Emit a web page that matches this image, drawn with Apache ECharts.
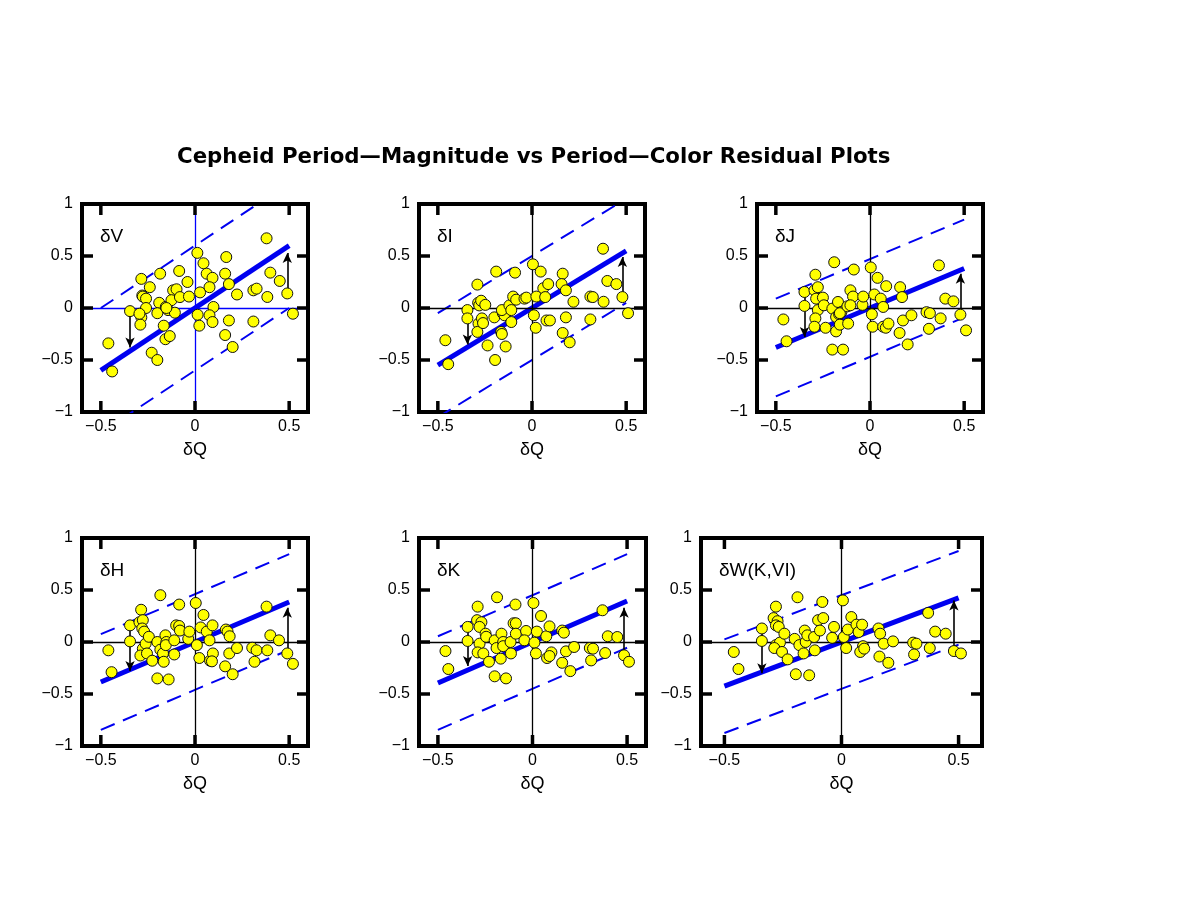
<!DOCTYPE html>
<html>
<head>
<meta charset="utf-8">
<script src="https://cdn.jsdelivr.net/npm/echarts@6/dist/echarts.min.js"></script>
<style>
html,body{margin:0;padding:0;background:#fff;}
#chart{width:1177px;height:909px;}
</style>
</head>
<body>
<div id="chart"></div>
<script>
// ---------------- data ----------------
const panelLabels = ['δV', 'δI', 'δJ', 'δH', 'δK', 'δW(K,VI)'];
const xTicks = [-0.5, 0, 0.5];
const yTicks = [-0.5, 0, 0.5];

const ptsV = [[-0.46,-0.34],[-0.44,-0.61],[-0.345,-0.03],[-0.285,0.28],[-0.28,0.12],[-0.277,0.11],[-0.26,0.09],[-0.26,0.0],[-0.285,-0.09],[-0.29,-0.16],[-0.295,-0.055],[-0.24,0.2],[-0.185,0.33],[-0.19,0.05],[-0.2,-0.05],[-0.166,-0.17],[-0.157,-0.3],[-0.134,-0.27],[-0.23,-0.43],[-0.2,-0.5],[-0.155,0.01],[-0.143,-0.02],[-0.116,0.17],[-0.098,0.18],[-0.107,-0.045],[-0.125,0.075],[-0.08,0.105],[-0.084,0.356],[-0.04,0.25],[-0.032,0.11],[0.0125,0.53],[0.045,0.43],[0.062,0.33],[0.093,0.29],[0.027,0.15],[0.077,0.2],[0.014,-0.065],[0.023,-0.17],[0.098,0.01],[0.077,-0.07],[0.093,-0.135],[0.166,0.49],[0.16,0.33],[0.18,0.23],[0.223,0.13],[0.18,-0.12],[0.16,-0.26],[0.2,-0.375],[0.31,0.17],[0.327,0.186],[0.31,-0.13],[0.384,0.106],[0.38,0.67],[0.4,0.34],[0.45,0.26],[0.49,0.14],[0.52,-0.055],[-0.152,0.0]];

const ptsI = [[-0.46,-0.31],[-0.445,-0.54],[-0.343,-0.02],[-0.343,-0.1],[-0.29,0.225],[-0.286,0.05],[-0.28,0.025],[-0.27,0.07],[-0.284,-0.15],[-0.29,-0.23],[-0.266,-0.1],[-0.248,0.03],[-0.26,-0.145],[-0.19,0.35],[-0.2,-0.09],[-0.236,-0.36],[-0.196,-0.5],[-0.164,-0.23],[-0.16,-0.25],[-0.14,-0.37],[-0.155,-0.05],[-0.146,-0.07],[-0.16,-0.02],[-0.12,0.025],[-0.11,-0.135],[-0.1,0.11],[-0.084,0.08],[-0.11,-0.02],[-0.09,0.34],[-0.04,0.09],[-0.03,0.1],[0.005,0.42],[0.046,0.35],[0.023,0.11],[0.01,-0.07],[0.02,-0.19],[0.06,0.19],[0.086,0.23],[0.07,0.105],[0.077,-0.12],[0.095,-0.12],[0.163,0.33],[0.157,0.23],[0.18,0.17],[0.22,0.06],[0.18,-0.09],[0.163,-0.24],[0.2,-0.33],[0.31,0.11],[0.323,0.105],[0.31,-0.11],[0.38,0.06],[0.377,0.57],[0.4,0.26],[0.448,0.23],[0.48,0.105],[0.51,-0.05]];

const ptsJ = [[-0.46,-0.11],[-0.443,-0.32],[-0.348,0.154],[-0.348,0.02],[-0.29,0.32],[-0.295,0.17],[-0.277,0.2],[-0.286,0.09],[-0.277,-0.02],[-0.29,-0.1],[-0.295,-0.18],[-0.25,0.1],[-0.245,0.026],[-0.236,-0.19],[-0.19,0.44],[-0.2,-0.006],[-0.18,-0.087],[-0.17,0.058],[-0.18,-0.225],[-0.2,-0.4],[-0.143,-0.4],[-0.164,-0.06],[-0.152,-0.04],[-0.16,-0.05],[-0.16,-0.16],[-0.12,0.016],[-0.116,-0.15],[-0.104,0.17],[-0.09,0.11],[-0.086,0.37],[-0.104,0.026],[-0.04,0.03],[-0.036,0.11],[0.004,0.39],[0.01,-0.06],[0.014,-0.18],[0.023,0.13],[0.04,0.29],[0.057,0.09],[0.07,0.01],[0.086,0.21],[0.07,-0.18],[0.084,-0.19],[0.098,-0.15],[0.16,0.2],[0.17,0.105],[0.175,-0.12],[0.22,-0.07],[0.157,-0.24],[0.2,-0.35],[0.3,-0.04],[0.318,-0.05],[0.313,-0.2],[0.375,-0.1],[0.366,0.41],[0.4,0.09],[0.443,0.064],[0.48,-0.064],[0.51,-0.215]];

const ptsH = [[-0.46,-0.08],[-0.443,-0.29],[-0.345,0.16],[-0.345,0.006],[-0.286,0.31],[-0.295,0.19],[-0.277,0.21],[-0.28,0.13],[-0.27,0.1],[-0.277,-0.064],[-0.29,-0.13],[-0.262,-0.016],[-0.255,-0.11],[-0.245,0.05],[-0.227,-0.18],[-0.2,0.0],[-0.184,0.45],[-0.184,-0.074],[-0.17,-0.11],[-0.157,0.064],[-0.152,0.0],[-0.155,-0.03],[-0.166,-0.19],[-0.2,-0.35],[-0.14,-0.36],[-0.11,0.016],[-0.11,-0.12],[-0.1,0.16],[-0.084,0.154],[-0.08,0.11],[-0.084,0.36],[-0.036,0.03],[-0.03,0.1],[0.004,0.375],[0.01,-0.03],[0.023,-0.154],[0.03,0.14],[0.045,0.26],[0.0625,0.1],[0.077,0.016],[0.093,0.16],[0.08,-0.18],[0.095,-0.11],[0.09,-0.186],[0.164,0.12],[0.173,0.1],[0.184,0.055],[0.182,-0.11],[0.223,-0.058],[0.16,-0.234],[0.2,-0.31],[0.304,-0.055],[0.327,-0.08],[0.316,-0.19],[0.38,0.34],[0.384,-0.08],[0.4,0.064],[0.446,0.016],[0.49,-0.11],[0.52,-0.21]];

const ptsK = [[-0.46,-0.087],[-0.445,-0.26],[-0.343,0.145],[-0.343,0.01],[-0.29,0.34],[-0.293,0.21],[-0.27,0.19],[-0.28,0.145],[-0.28,-0.016],[-0.29,-0.1],[-0.26,-0.11],[-0.248,0.08],[-0.245,0.05],[-0.23,-0.19],[-0.2,0.016],[-0.1875,0.43],[-0.19,-0.058],[-0.2,-0.33],[-0.14,-0.35],[-0.164,0.08],[-0.155,0.0],[-0.155,-0.04],[-0.168,-0.16],[-0.116,0.0],[-0.114,-0.11],[-0.1,0.18],[-0.088,0.18],[-0.088,0.08],[-0.09,0.36],[-0.034,0.106],[-0.043,0.016],[0.005,0.375],[0.01,-0.006],[0.018,-0.11],[0.023,0.1],[0.045,0.25],[0.073,0.055],[0.09,0.15],[0.1,-0.1],[0.077,-0.154],[0.09,-0.135],[0.157,0.11],[0.166,0.09],[0.177,-0.09],[0.22,-0.048],[0.157,-0.2],[0.2,-0.28],[0.303,-0.058],[0.32,-0.064],[0.31,-0.177],[0.37,0.305],[0.384,-0.106],[0.398,0.055],[0.448,0.048],[0.484,-0.128],[0.51,-0.19]];

const ptsW = [[-0.46,-0.096],[-0.44,-0.26],[-0.34,0.13],[-0.34,0.01],[-0.28,0.34],[-0.29,0.23],[-0.273,0.2],[-0.28,0.16],[-0.268,0.145],[-0.28,-0.03],[-0.263,-0.006],[-0.287,-0.058],[-0.254,-0.096],[-0.244,0.08],[-0.23,-0.167],[-0.2,0.03],[-0.188,0.43],[-0.18,-0.03],[-0.195,-0.31],[-0.138,-0.32],[-0.162,-0.11],[-0.157,0.11],[-0.153,0.0],[-0.146,0.064],[-0.117,0.048],[-0.114,-0.08],[-0.1,0.21],[-0.092,0.11],[-0.078,0.23],[-0.082,0.385],[-0.04,0.04],[-0.032,0.145],[0.006,0.4],[0.01,0.048],[0.02,-0.058],[0.027,0.12],[0.042,0.24],[0.064,0.167],[0.073,0.096],[0.088,0.167],[0.092,-0.04],[0.08,-0.096],[0.097,-0.064],[0.158,0.13],[0.165,0.08],[0.18,-0.016],[0.162,-0.14],[0.22,0.006],[0.2,-0.2],[0.306,-0.006],[0.32,-0.016],[0.31,-0.12],[0.37,0.28],[0.377,-0.058],[0.4,0.1],[0.445,0.08],[0.48,-0.087],[0.51,-0.11]];

const panelPoints = [ptsV, ptsI, ptsJ, ptsH, ptsK, ptsW];

// fitted relation (slope) and scatter band half-width for each panel
const fitSlope = [1.2, 1.1, 0.76, 0.77, 0.79, 0.85];
const bandHalf = [0.6, 0.5, 0.47, 0.46, 0.45, 0.45];

// residual arrows: x position, start and end values
const arrowLeftX    = [-0.345, -0.343, -0.348, -0.345, -0.343, -0.34];
const arrowLeftFrom = [-0.03, -0.1, 0.154, 0.16, 0.145, 0.13];
const arrowLeftTo   = [-0.38, -0.35, -0.28, -0.28, -0.23, -0.3];
const arrowRightX    = [0.49, 0.48, 0.48, 0.49, 0.484, 0.48];
const arrowRightFrom = [0.14, 0.105, -0.064, -0.11, -0.128, -0.087];
const arrowRightTo   = [0.53, 0.49, 0.33, 0.33, 0.33, 0.4];

// ---------------- layout / style ----------------
const X_MIN = -0.6, X_MAX = 0.6, Y_MIN = -1, Y_MAX = 1;
const gridLeft  = [82, 419, 757, 82, 419, 701];
const gridTop   = [204, 204, 204, 538, 538, 538];
const gridWidth = [226, 226, 226, 226, 227, 281];
const gridHeight = 208;
const zeroColor = ['#0000ff', '#000', '#000', '#000', '#000', '#000'];
const BLUE = '#0000f0';
const FONT = '"Liberation Sans", Arial, Helvetica, sans-serif';
const TICK_PX = 11;
const fmt = v => String(v).replace('-', '\u2212');

const grids = [], xAxes = [], yAxes = [], series = [], titles = [];

titles.push({
  text: 'Cepheid Period\u2014Magnitude vs Period\u2014Color Residual Plots',
  left: 177, top: 147, padding: 0,
  textStyle: { fontFamily: '"DejaVu Sans", sans-serif', fontSize: 21.3, fontWeight: 'bold', color: '#000' }
});

// one custom series per frame side; the tick is drawn inward from the axis position
function tickSeries(i, data, ddx, ddy) {
  return {
    type: 'custom', xAxisIndex: i, yAxisIndex: i, clip: false, z: 7,
    data: data,
    renderItem: function (params, api) {
      const c = api.coord([api.value(0), api.value(1)]);
      return { type: 'line',
        shape: { x1: c[0], y1: c[1], x2: c[0] + ddx * TICK_PX, y2: c[1] + ddy * TICK_PX },
        style: { stroke: '#000', lineWidth: 3.5 } };
    }
  };
}

for (let i = 0; i < 6; i++) {
  grids.push({ left: gridLeft[i], top: gridTop[i], width: gridWidth[i], height: gridHeight,
    show: true, borderColor: '#000', borderWidth: 4 });
  xAxes.push({
    type: 'value', gridIndex: i, min: X_MIN, max: X_MAX, position: 'bottom',
    axisLine: { show: false, onZero: false }, splitLine: { show: false }, axisTick: { show: false },
    axisLabel: { customValues: xTicks, formatter: fmt, fontSize: 16, color: '#000', margin: 7, fontFamily: FONT },
    name: 'δQ', nameLocation: 'middle', nameGap: 29,
    nameTextStyle: { fontSize: 18, color: '#000', fontFamily: FONT, verticalAlign: 'top' }
  });
  yAxes.push({
    type: 'value', gridIndex: i, min: Y_MIN, max: Y_MAX, interval: 0.5, position: 'left',
    axisLine: { show: false, onZero: false }, splitLine: { show: false }, axisTick: { show: false },
    axisLabel: { formatter: fmt, fontSize: 16, color: '#000', margin: 9, fontFamily: FONT }
  });
  const s = fitSlope[i], b = bandHalf[i];
  // zero lines
  series.push({
    type: 'line', xAxisIndex: i, yAxisIndex: i, data: [], z: 1,
    markLine: { symbol: ['none', 'none'], label: { show: false },
      lineStyle: { color: zeroColor[i], width: 1.3, type: 'solid' },
      data: [{ yAxis: 0 }, { xAxis: 0 }] }
  });
  // frame ticks (bottom, top, left, right)
  series.push(tickSeries(i, xTicks.map(v => [v, Y_MIN]), 0, -1));
  series.push(tickSeries(i, xTicks.map(v => [v, Y_MAX]), 0, 1));
  series.push(tickSeries(i, yTicks.map(v => [X_MIN, v]), 1, 0));
  series.push(tickSeries(i, yTicks.map(v => [X_MAX, v]), -1, 0));
  // dashed band
  series.push({
    type: 'line', xAxisIndex: i, yAxisIndex: i, symbol: 'none', z: 2,
    data: [[-0.5, -0.5 * s + b], [0.5, 0.5 * s + b]],
    lineStyle: { color: BLUE, width: 2, type: [15, 9] }
  });
  series.push({
    type: 'line', xAxisIndex: i, yAxisIndex: i, symbol: 'none', z: 2,
    data: [[-0.5, -0.5 * s - b], [0.5, 0.5 * s - b]],
    lineStyle: { color: BLUE, width: 2, type: [15, 9] }
  });
  // fit line + arrows
  series.push({
    type: 'line', xAxisIndex: i, yAxisIndex: i, symbol: 'none', z: 3,
    data: [[-0.5, -0.5 * s], [0.5, 0.5 * s]],
    lineStyle: { color: BLUE, width: 5 },
    markLine: { symbol: ['none', 'arrow'], symbolSize: [7, 10], label: { show: false },
      lineStyle: { color: '#000', width: 1.6, type: 'solid' },
      data: [
        [{ coord: [arrowLeftX[i], arrowLeftFrom[i]] }, { coord: [arrowLeftX[i], arrowLeftTo[i]] }],
        [{ coord: [arrowRightX[i], arrowRightFrom[i]] }, { coord: [arrowRightX[i], arrowRightTo[i]] }]
      ] }
  });
  // points
  series.push({
    type: 'scatter', xAxisIndex: i, yAxisIndex: i, z: 5,
    data: panelPoints[i], symbolSize: 11,
    itemStyle: { color: '#ffff00', borderColor: '#111', borderWidth: 1, opacity: 1 }
  });
  titles.push({
    text: panelLabels[i], left: gridLeft[i] + 18, top: gridTop[i] + 23, padding: 0,
    textStyle: { fontFamily: FONT, fontSize: 19, fontWeight: 'normal', color: '#000' }
  });
}

const chart = echarts.init(document.getElementById('chart'));
chart.setOption({
  animation: false,
  title: titles,
  grid: grids, xAxis: xAxes, yAxis: yAxes, series: series
});
</script>
</body>
</html>
